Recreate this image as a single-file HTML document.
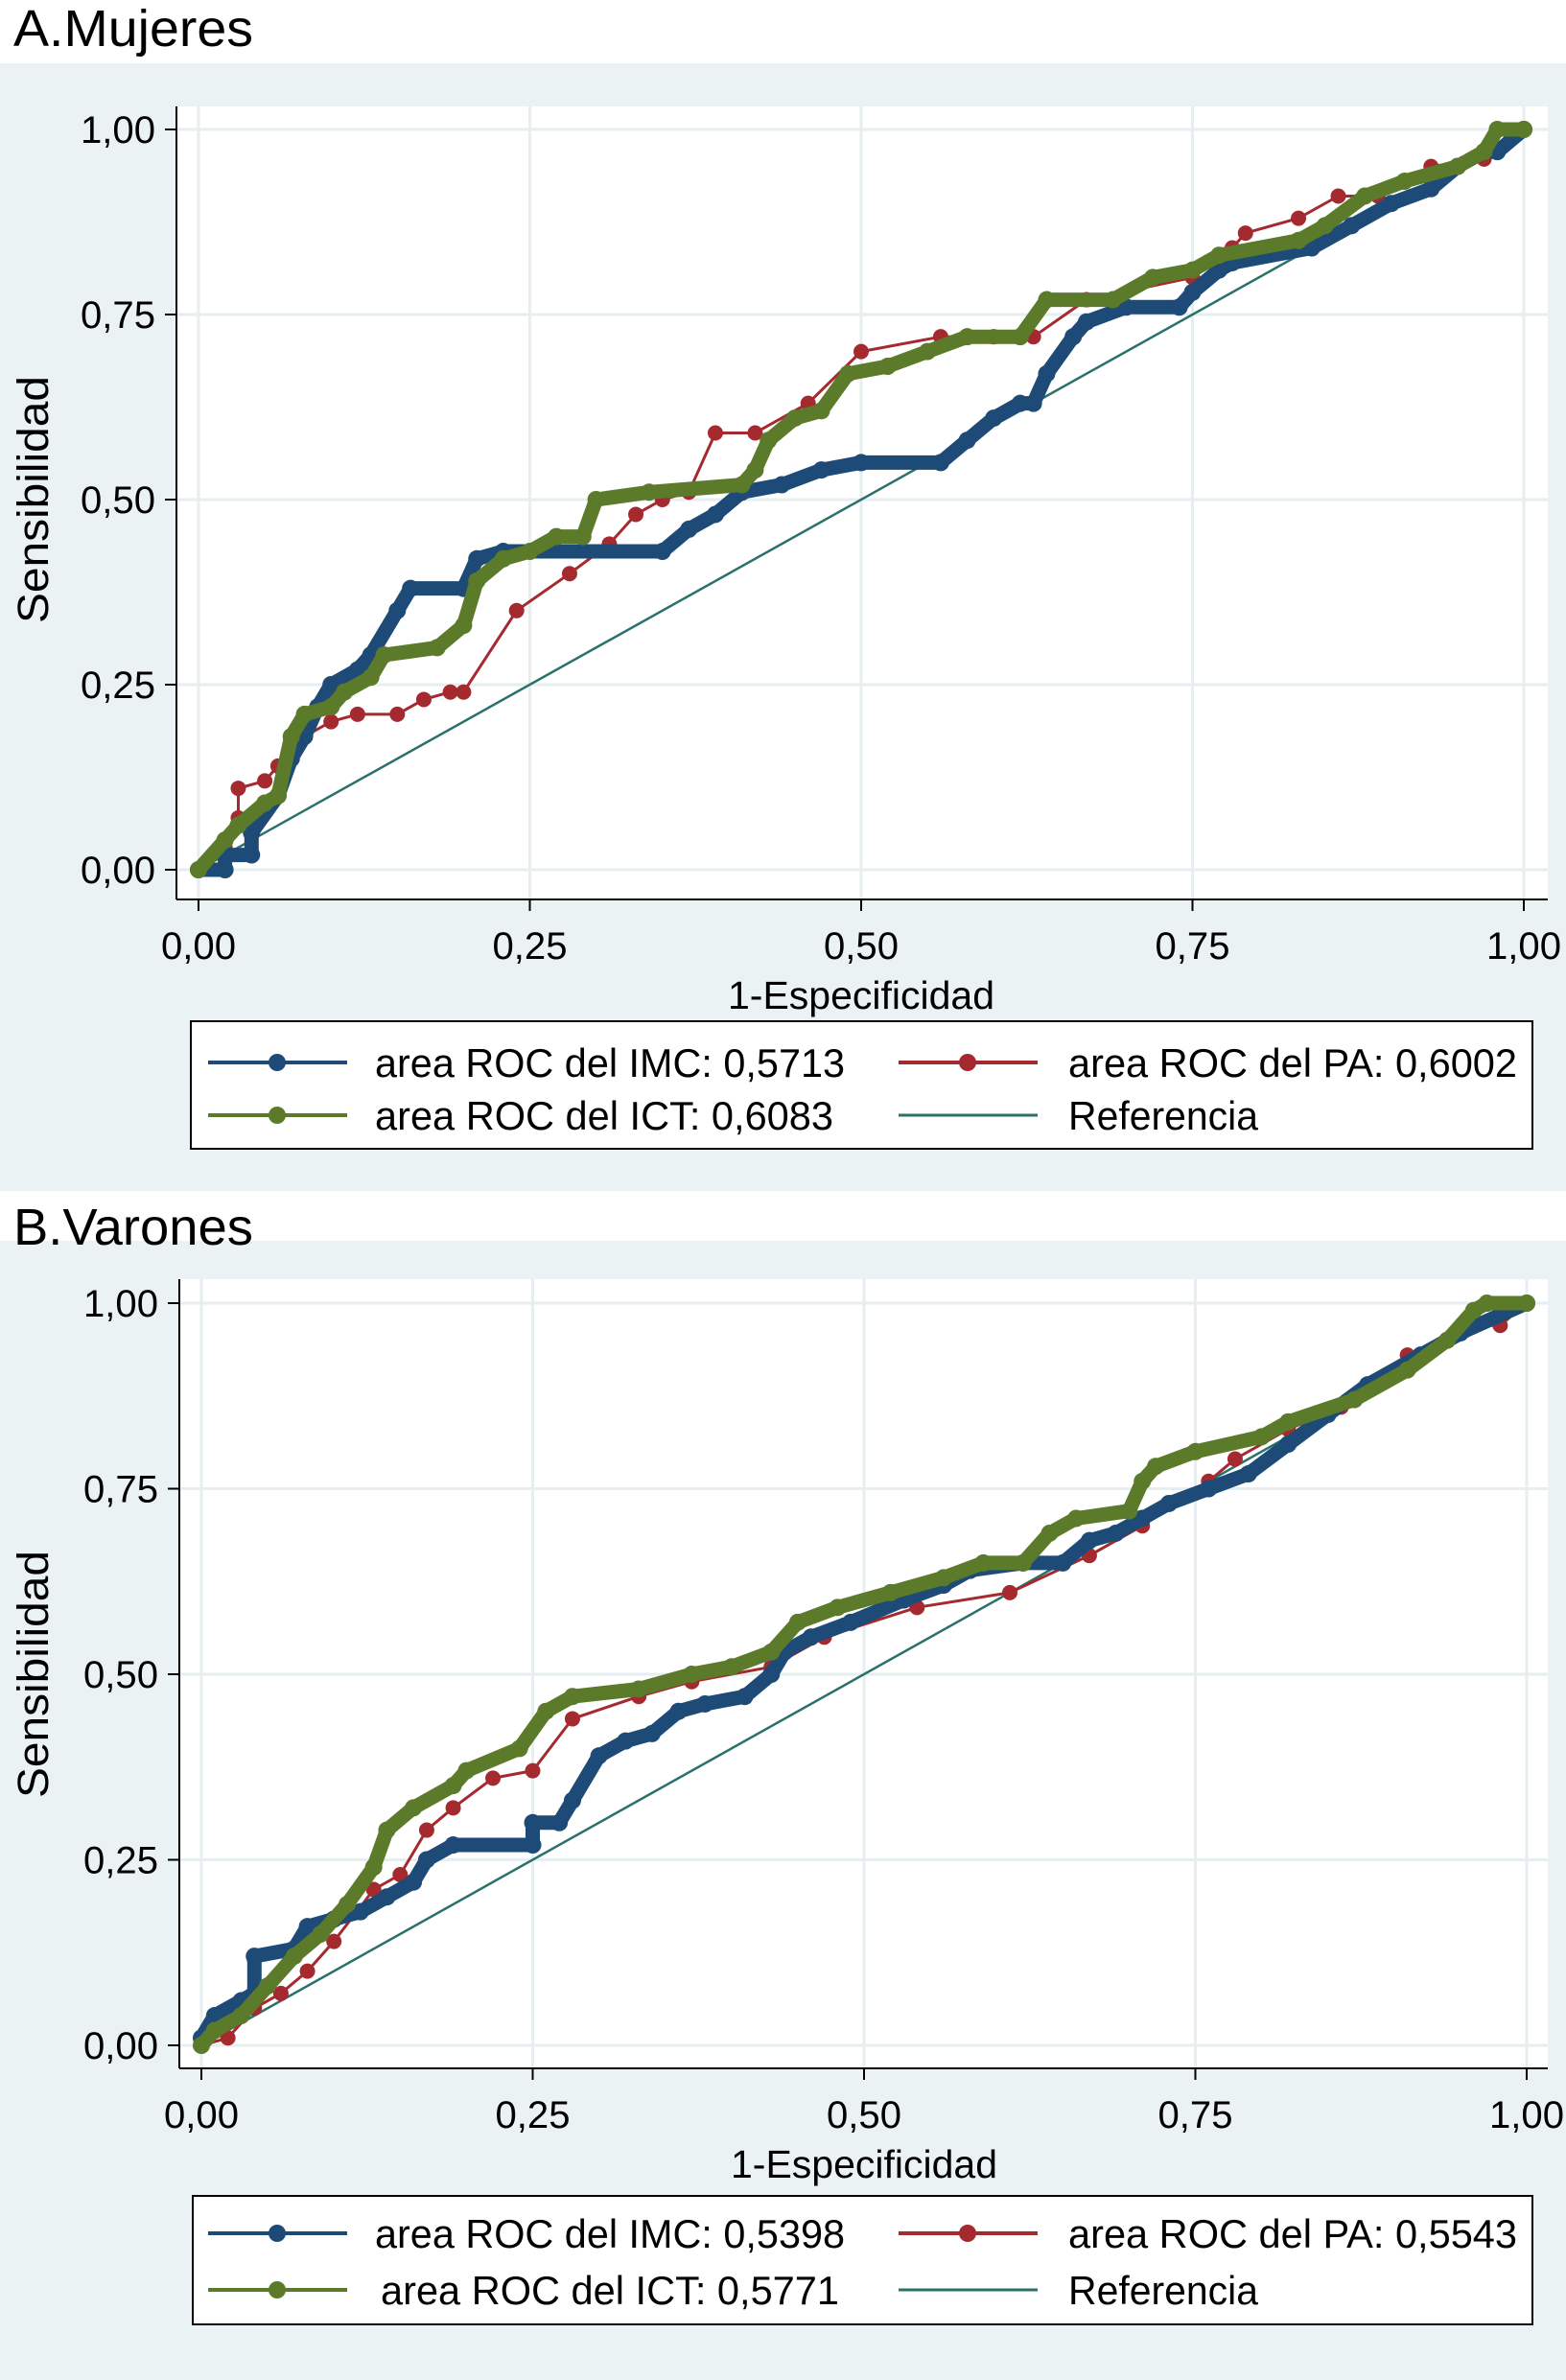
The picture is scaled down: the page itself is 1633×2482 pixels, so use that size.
<!DOCTYPE html>
<html><head><meta charset="utf-8"><style>
html,body{margin:0;padding:0;background:#fff;}
svg{display:block;font-family:"Liberation Sans",Arial,sans-serif;}
</style></head><body>
<svg id="fig" width="1633" height="2482" viewBox="0 0 1633 2482">
<rect x="0" y="0" width="1633" height="2482" fill="#ffffff"/>
</svg>
<script>
// ---- data ----
const tickVals = [0, 0.25, 0.5, 0.75, 1];
const tickLabels = ["0,00", "0,25", "0,50", "0,75", "1,00"];
const panelTitles = ["A.Mujeres", "B.Varones"];
const legendA = ["area ROC del IMC: 0,5713", "area ROC del PA: 0,6002", "area ROC del ICT: 0,6083", "Referencia"];
const legendB = ["area ROC del IMC: 0,5398", "area ROC del PA: 0,5543", "area ROC del ICT: 0,5771", "Referencia"];
const refLine = [[0,0],[1,1]];
const aIMC = [[0,0],[0.02,0],[0.02,0.02],[0.04,0.02],[0.04,0.05],[0.06,0.10],[0.07,0.15],[0.08,0.18],[0.09,0.22],[0.10,0.25],[0.12,0.27],[0.13,0.29],[0.15,0.35],[0.16,0.38],[0.2,0.38],[0.21,0.42],[0.23,0.43],[0.35,0.43],[0.37,0.46],[0.39,0.48],[0.41,0.51],[0.44,0.52],[0.47,0.54],[0.5,0.55],[0.56,0.55],[0.58,0.58],[0.6,0.61],[0.62,0.63],[0.63,0.63],[0.64,0.67],[0.66,0.72],[0.67,0.74],[0.70,0.76],[0.74,0.76],[0.75,0.78],[0.77,0.81],[0.78,0.82],[0.84,0.84],[0.87,0.87],[0.90,0.90],[0.93,0.92],[0.95,0.95],[0.97,0.97],[0.98,0.97],[1,1]];
const aICT = [[0,0],[0.02,0.04],[0.03,0.06],[0.05,0.09],[0.06,0.10],[0.07,0.18],[0.08,0.21],[0.10,0.22],[0.11,0.24],[0.13,0.26],[0.14,0.29],[0.18,0.30],[0.2,0.33],[0.21,0.39],[0.23,0.42],[0.25,0.43],[0.27,0.45],[0.29,0.45],[0.30,0.50],[0.34,0.51],[0.41,0.52],[0.42,0.54],[0.43,0.58],[0.45,0.61],[0.47,0.62],[0.49,0.67],[0.52,0.68],[0.55,0.70],[0.58,0.72],[0.62,0.72],[0.64,0.77],[0.69,0.77],[0.72,0.80],[0.75,0.81],[0.77,0.83],[0.83,0.85],[0.85,0.87],[0.88,0.91],[0.91,0.93],[0.95,0.95],[0.97,0.97],[0.98,1.0],[1,1]];
const aPA = [[0,0],[0.02,0.03],[0.03,0.07],[0.03,0.11],[0.05,0.12],[0.06,0.14],[0.08,0.18],[0.1,0.20],[0.12,0.21],[0.15,0.21],[0.17,0.23],[0.19,0.24],[0.2,0.24],[0.24,0.35],[0.28,0.40],[0.31,0.44],[0.33,0.48],[0.35,0.50],[0.37,0.51],[0.39,0.59],[0.42,0.59],[0.46,0.63],[0.50,0.70],[0.56,0.72],[0.6,0.72],[0.63,0.72],[0.67,0.77],[0.75,0.80],[0.78,0.84],[0.79,0.86],[0.83,0.88],[0.86,0.91],[0.89,0.91],[0.93,0.95],[0.97,0.96],[1,1]];
const bIMC = [[0,0.01],[0.01,0.04],[0.03,0.06],[0.04,0.07],[0.04,0.12],[0.07,0.13],[0.08,0.16],[0.10,0.17],[0.12,0.18],[0.14,0.20],[0.16,0.22],[0.17,0.25],[0.19,0.27],[0.25,0.27],[0.25,0.30],[0.27,0.30],[0.28,0.33],[0.30,0.39],[0.32,0.41],[0.34,0.42],[0.36,0.45],[0.38,0.46],[0.41,0.47],[0.43,0.50],[0.44,0.53],[0.46,0.55],[0.49,0.57],[0.53,0.60],[0.56,0.62],[0.58,0.64],[0.62,0.65],[0.65,0.65],[0.67,0.68],[0.69,0.69],[0.71,0.71],[0.73,0.73],[0.76,0.75],[0.79,0.77],[0.82,0.81],[0.85,0.85],[0.88,0.89],[0.92,0.93],[0.95,0.96],[1,1]];
const bICT = [[0,0],[0.01,0.02],[0.03,0.04],[0.05,0.08],[0.07,0.12],[0.09,0.15],[0.11,0.19],[0.13,0.24],[0.14,0.29],[0.16,0.32],[0.19,0.35],[0.2,0.37],[0.24,0.40],[0.26,0.45],[0.28,0.47],[0.33,0.48],[0.37,0.50],[0.40,0.51],[0.43,0.53],[0.45,0.57],[0.48,0.59],[0.52,0.61],[0.56,0.63],[0.59,0.65],[0.62,0.65],[0.64,0.69],[0.66,0.71],[0.7,0.72],[0.71,0.76],[0.72,0.78],[0.75,0.80],[0.8,0.82],[0.82,0.84],[0.87,0.87],[0.91,0.91],[0.94,0.95],[0.96,0.99],[0.97,1],[1,1]];
const bPA = [[0,0],[0.02,0.01],[0.04,0.05],[0.06,0.07],[0.08,0.10],[0.10,0.14],[0.13,0.21],[0.15,0.23],[0.17,0.29],[0.19,0.32],[0.22,0.36],[0.25,0.37],[0.28,0.44],[0.33,0.47],[0.37,0.49],[0.43,0.51],[0.47,0.55],[0.54,0.59],[0.61,0.61],[0.67,0.66],[0.71,0.70],[0.76,0.76],[0.78,0.79],[0.82,0.83],[0.86,0.86],[0.91,0.93],[0.96,0.97],[0.98,0.97],[1,1]];

const C = {imc:"#1d4a76", pa:"#a52a30", ict:"#5b7b2b", ref:"#2a716c"};
const NS = "http://www.w3.org/2000/svg";
const svg = document.getElementById('fig');
function mk(tag, attrs, parent, text){
  const e = document.createElementNS(NS, tag);
  for (const k in attrs) e.setAttribute(k, attrs[k]);
  if (text !== undefined) e.textContent = text;
  (parent||svg).appendChild(e); return e;
}

function panel(cfg){
  const g = mk('g', {});
  
  
  const bg = mk('rect', {x:0, y:cfg.bgTop, width:1633, height:cfg.bgBottom-cfg.bgTop, fill:"#eaf2f3"}, g);
  
  
  const t = mk('text', {x:14, y:cfg.titleY, 'font-size':54, fill:"#000", textLength:250, lengthAdjust:'spacingAndGlyphs'}, g, cfg.title);
  
  
  const pa = mk('rect', {x:cfg.axL, y:cfg.plotTop, width:1614-cfg.axL, height:cfg.axB-cfg.plotTop, fill:"#fff"}, g);
  
  
  const sx = v => cfg.x0 + v*(cfg.x1-cfg.x0);
  const sy = v => cfg.y0 + v*(cfg.y1-cfg.y0);
  tickVals.forEach((v,i)=>{
    const gx = mk('line', {x1:sx(v), x2:sx(v), y1:cfg.plotTop, y2:cfg.axB, stroke:"#e6eeef", 'stroke-width':3}, g);
    
    
    const gy = mk('line', {x1:cfg.axL, x2:1614, y1:sy(v), y2:sy(v), stroke:"#e6eeef", 'stroke-width':3}, g);
    
    
  });
  const ax = mk('line', {x1:cfg.axL, x2:cfg.axL, y1:cfg.plotTop, y2:cfg.axB, stroke:"#000", 'stroke-width':2}, g);
  
  
  const ax2 = mk('line', {x1:cfg.axL, x2:1614, y1:cfg.axB, y2:cfg.axB, stroke:"#000", 'stroke-width':2}, g);
  
  
  tickVals.forEach((v,i)=>{
    mk('line', {x1:cfg.axL-12, x2:cfg.axL, y1:sy(v), y2:sy(v), stroke:"#000", 'stroke-width':2}, g);
    const yl = mk('text', {x:cfg.axL-22, y:sy(v)+14, 'font-size':40, 'text-anchor':'end', textLength:78, lengthAdjust:'spacingAndGlyphs'}, g, tickLabels[i]);
    
    
    mk('line', {x1:sx(v), x2:sx(v), y1:cfg.axB, y2:cfg.axB+12, stroke:"#000", 'stroke-width':2}, g);
    const xl = mk('text', {x:sx(v), y:cfg.axB+62, 'font-size':40, 'text-anchor':'middle', textLength:78, lengthAdjust:'spacingAndGlyphs'}, g, tickLabels[i]);
    
    
  });
  const xt = mk('text', {x:(cfg.x0+cfg.x1)/2, y:cfg.axB+114, 'font-size':41, 'text-anchor':'middle', textLength:278, lengthAdjust:'spacingAndGlyphs'}, g, "1-Especificidad");
  
  
  const ym = (cfg.y0+cfg.y1)/2;
  const yt = mk('text', {x:0, y:0, 'font-size':45, 'text-anchor':'middle', transform:`translate(50,${ym}) rotate(-90)`, textLength:258, lengthAdjust:'spacingAndGlyphs'}, g, "Sensibilidad");
  
  
  function series(data, color, name, thick, mr){
    const sg = mk('g', {}, g);
    
    
    const pts = data.map(d=>sx(d[0]).toFixed(1)+','+sy(d[1]).toFixed(1)).join(' ');
    mk('polyline', {points:pts, fill:'none', stroke:color, 'stroke-width':thick, 'stroke-linejoin':'round'}, sg);
    if (mr>0) data.forEach(d=>{
      const c = mk('circle', {cx:sx(d[0]), cy:sy(d[1]), r:mr, fill:color}, sg);
      
      
    });
  }
  series(refLine, C.ref, 'reference-line', 2.5, 0);
  series(cfg.pa, C.pa, 'pa-curve', 3, 8);
  series(cfg.imc, C.imc, 'imc-curve', 15, 9);
  series(cfg.ict, C.ict, 'ict-curve', 15, 9);
  const lg = mk('g', {}, g);
  
  
  mk('rect', {x:cfg.lgX, y:cfg.lgTop, width:1598-cfg.lgX, height:cfg.lgBot-cfg.lgTop, fill:'#fff', stroke:'#000', 'stroke-width':2}, lg);
  const items = [[C.imc,true],[C.pa,true],[C.ict,true],[C.ref,false]];
  const lens = [490, 468, 478, 198];
  items.forEach((it,i)=>{
    const col = i%2, row = Math.floor(i/2);
    const ry = row===0 ? cfg.r1 : cfg.r2;
    const lx = col===0 ? 217 : 937;
    const e = mk('g', {}, lg);
    
    
    mk('line', {x1:lx, x2:lx+145, y1:ry, y2:ry, stroke:it[0], 'stroke-width': it[1]?4:3}, e);
    if (it[1]) mk('circle', {cx:lx+72, cy:ry, r:9, fill:it[0]}, e);
    mk('text', {x:(col===0?391:1114)+(i===2?cfg.ictShift:0), y:ry+15, 'font-size':42, textLength:lens[i], lengthAdjust:'spacingAndGlyphs'}, e, cfg.legend[i]);
  });
}

panel({id:'mujeres', title:panelTitles[0], titleY:48, bgTop:66, bgBottom:1242, plotTop:111, axL:184, axB:938,
  x0:207, x1:1589, y0:907, y1:135, imc:aIMC, ict:aICT, pa:aPA, legend:legendA,
  lgX:199, lgTop:1065, lgBot:1198, r1:1108, r2:1163, ictShift:0});
panel({id:'varones', title:panelTitles[1], titleY:1298, bgTop:1294, bgBottom:2482, plotTop:1334, axL:187, axB:2157,
  x0:210, x1:1592, y0:2133, y1:1359, imc:bIMC, ict:bICT, pa:bPA, legend:legendB,
  lgX:201, lgTop:2290, lgBot:2424, r1:2329, r2:2388, ictShift:6});
</script>
</body></html>
